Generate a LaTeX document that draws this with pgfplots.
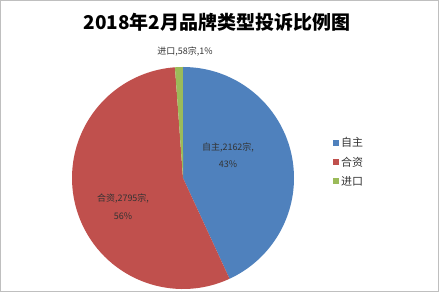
\documentclass[border=0pt]{standalone}
\usepackage{pgfplots}
\pgfplotsset{compat=1.18}
\usepackage{fontspec}
\setmainfont{Noto Sans CJK SC}
\definecolor{cA}{HTML}{4F81BD}
\definecolor{cB}{HTML}{C0504D}
\definecolor{cC}{HTML}{9BBB59}
\begin{document}
\begin{tikzpicture}
\def\vA{2162}\def\vB{2795}\def\vC{58}
\pgfmathsetmacro\tot{\vA+\vB+\vC}
\pgfmathsetmacro\aA{90}
\pgfmathsetmacro\aB{90-360*(\vA/\tot)}
\pgfmathsetmacro\aC{\aB-360*(\vB/\tot)}
\pgfmathsetmacro\aD{\aC-360*(\vC/\tot)}
\def\R{111}
\begin{axis}[x=1pt,y=1pt, xmin=-183,xmax=256,ymin=-114,ymax=178,
  hide axis, scale only axis, at={(0,0)}, anchor=south west, clip=false,
  legend style={at={(axis cs:147,16)},anchor=west,draw=none,fill=none,
    font=\fontsize{11}{12}\selectfont, row sep=4.5pt, text=black!80},
  legend cell align=left,
  legend image code/.code={\fill[#1,draw=none] (0pt,-3pt) rectangle (6pt,3pt);}]
\addlegendimage{fill=cA,draw=none}
\addlegendimage{fill=cB,draw=none}
\addlegendimage{fill=cC,draw=none}
\legend{自主,合资,进口}
\draw[gray!50, line width=1pt] (axis cs:-182.5,-113.5) rectangle (axis cs:255.5,177.5);
\fill[cA] (axis cs:0,0) -- (axis cs:{\R*cos(\aA)},{\R*sin(\aA)}) arc[start angle=\aA, end angle=\aB, radius=\R pt] -- cycle;
\fill[cB] (axis cs:0,0) -- (axis cs:{\R*cos(\aB)},{\R*sin(\aB)}) arc[start angle=\aB, end angle=\aC, radius=\R pt] -- cycle;
\fill[cC] (axis cs:0,0) -- (axis cs:{\R*cos(\aC)},{\R*sin(\aC)}) arc[start angle=\aC, end angle=\aD, radius=\R pt] -- cycle;
\node[font=\fontsize{19}{22}\selectfont\bfseries, text=black] at (axis cs:34,156) {2018年2月品牌类型投诉比例图};
\node[font=\fontsize{9}{10}\selectfont, text=black!80] at (axis cs:2,126) {进口,58宗,1\%};
\node[font=\fontsize{9}{17.5}\selectfont, text=black!80, align=center] at (axis cs:45,23) {自主,2162宗,\\43\%};
\node[font=\fontsize{9}{17.5}\selectfont, text=black!80, align=center] at (axis cs:-60,-28.5) {合资,2795宗,\\56\%};
\end{axis}
\end{tikzpicture}
\end{document}
